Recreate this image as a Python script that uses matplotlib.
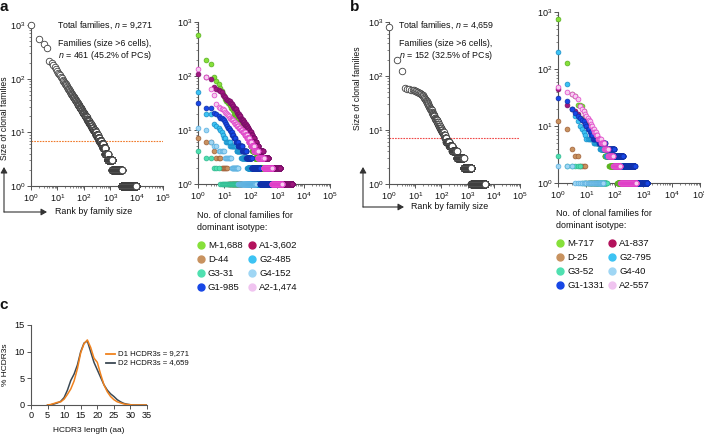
import numpy as np
import matplotlib
matplotlib.use('Agg')
import matplotlib.pyplot as plt
from matplotlib.lines import Line2D
from matplotlib.patches import FancyArrowPatch
from matplotlib.ticker import LogLocator, NullFormatter, FixedLocator

plt.rcParams['font.family'] = ['Liberation Sans', 'DejaVu Sans']
plt.rcParams['mathtext.fontset'] = 'custom'
plt.rcParams['mathtext.rm'] = 'Liberation Sans'
plt.rcParams['mathtext.it'] = 'Liberation Sans:italic'
plt.rcParams['mathtext.bf'] = 'Liberation Sans:bold'

# ---------------- DATA ----------------
# Each series: largest families listed individually (top), then (size, number of families) pairs (tail)
a_all_top = [1000, 550, 450, 380, 210, 195, 180, 165, 150, 140, 130, 122, 115, 108, 102,
             95, 90, 86, 83, 81, 78, 75, 72, 70, 68, 65, 63, 61, 60, 58, 56, 55, 53, 52, 51, 50]
a_all_tail = [(49, 1), (48, 1), (47, 1), (46, 1), (45, 2), (44, 1), (43, 1), (42, 2), (41, 1), (40, 2),
              (39, 1), (38, 2), (37, 2), (36, 2), (35, 2), (34, 2), (33, 2), (32, 3), (31, 3), (30, 3),
              (29, 3), (28, 3), (27, 4), (26, 4), (25, 4), (24, 5), (23, 6), (22, 6), (21, 6), (20, 7),
              (19, 9), (18, 9), (17, 10), (16, 12), (15, 14), (14, 16), (13, 19), (12, 23), (11, 27),
              (10, 33), (9, 43), (8, 55), (7, 72), (6, 80), (5, 100), (4, 160), (3, 400), (2, 1500), (1, 6570)]

b_all_top = [800, 200, 125, 60, 58, 57, 56, 55, 54, 53, 52, 51, 50, 49, 48, 47, 46, 45, 44, 42,
             40, 39, 38, 37, 36, 35, 34, 33, 32, 31]
b_all_tail = [(30, 1), (29, 1), (28, 2), (27, 1), (26, 2), (25, 1), (24, 2), (23, 2), (22, 2), (21, 2),
              (20, 2), (19, 3), (18, 3), (17, 4), (16, 4), (15, 5), (14, 5), (13, 6), (12, 8), (11, 9),
              (10, 12), (9, 14), (8, 14), (7, 17), (6, 48), (5, 60), (4, 120), (3, 320), (2, 700), (1, 3259)]

# Panel a, per dominant isotype
a_M_top = [575, 195, 165, 96, 80, 72, 60, 52, 46, 42, 38]
a_M_tail = [(35, 2), (32, 2), (29, 2), (26, 3), (23, 3), (20, 4), (18, 4), (16, 5), (14, 5), (12, 6),
            (11, 6), (10, 7), (9, 8), (8, 9), (7, 10), (6, 12), (5, 15), (4, 25), (3, 50), (2, 150), (1, 1349)]
a_A1_top = [110, 96, 87, 62, 58, 55, 52, 50, 45, 42, 40, 38]
a_A1_tail = [(36, 2), (34, 2), (32, 2), (30, 2), (28, 2), (26, 3), (24, 3), (22, 3), (20, 4), (18, 5),
             (16, 5), (15, 5), (14, 6), (13, 7), (12, 8), (11, 8), (10, 9), (9, 12), (8, 14), (7, 18),
             (6, 25), (5, 35), (4, 90), (3, 170), (2, 800), (1, 2350)]
a_A2_top = [135, 95, 58, 45, 30, 27, 26, 25, 24, 23, 22, 21, 20, 19, 18]
a_A2_tail = [(17, 2), (16, 2), (15, 3), (14, 3), (13, 4), (12, 5), (11, 6), (10, 8), (9, 10), (8, 12),
             (7, 14), (6, 20), (5, 30), (4, 50), (3, 120), (2, 350), (1, 820)]
a_G1_top = [31, 26, 26, 21, 20, 18, 17, 17, 16, 15, 14, 13, 12, 11, 11, 10, 10, 9, 9, 8, 8, 8, 7, 7, 7, 7]
a_G1_tail = [(6, 6), (5, 15), (4, 20), (3, 40), (2, 120), (1, 758)]
a_G2_top = [50, 20, 20, 13, 12, 11, 10, 9, 8, 7, 7]
a_G2_tail = [(6, 5), (5, 12), (4, 15), (3, 30), (2, 60), (1, 352)]
a_G4_top = [11, 10, 6, 5, 5]
a_G4_tail = [(4, 5), (3, 8), (2, 15), (1, 119)]
a_G3_top = [4, 3, 3]
a_G3_tail = [(2, 3), (1, 25)]
a_D_top = [7, 6, 6, 4, 3, 3, 3]
a_D_tail = [(2, 6), (1, 31)]

# Panel b, per dominant isotype
b_M_top = [755, 126, 36, 34, 23, 23, 22, 18, 15, 13, 12, 11, 10, 9, 8, 8, 7, 7]
b_M_tail = [(6, 5), (5, 8), (4, 12), (3, 20), (2, 60), (1, 594)]
b_A1_top = [44, 23, 20, 18, 16, 14, 13, 12, 11, 10, 10, 9, 9, 8, 8, 7, 7, 7]
b_A1_tail = [(6, 6), (5, 10), (4, 20), (3, 40), (2, 120), (1, 623)]
b_G1_top = [31, 27, 20, 17, 15, 14, 13, 12, 11, 10, 9, 9, 8, 8, 7, 7]
b_G1_tail = [(6, 10), (5, 20), (4, 50), (3, 100), (2, 300), (1, 835)]
b_G2_top = [200, 54, 20, 15, 12, 10, 9, 8, 7]
b_G2_tail = [(6, 8), (5, 12), (4, 20), (3, 40), (2, 100), (1, 606)]
b_A2_top = [48, 40, 37, 33, 30, 22, 20, 18, 16, 15, 14, 13, 12, 11, 10, 10, 9, 9, 8, 8, 8, 7, 7, 7]
b_A2_tail = [(6, 8), (5, 10), (4, 15), (3, 30), (2, 70), (1, 400)]
b_D_top = [12, 9, 4, 3, 3]
b_D_tail = [(2, 4), (1, 16)]
b_G3_top = [3]
b_G3_tail = [(2, 5), (1, 46)]
b_G4_top = [2, 2, 2]
b_G4_tail = [(1, 37)]

isotypes_legend = ['M', 'D', 'G3', 'G1', 'A1', 'G2', 'G4', 'A2']
isotypes_draw = ['M', 'A1', 'D', 'G2', 'G3', 'G4', 'G1', 'A2']
a_legend_labels = ['M-1,688', 'D-44', 'G3-31', 'G1-985', 'A1-3,602', 'G2-485', 'G4-152', 'A2-1,474']
b_legend_labels = ['M-717', 'D-25', 'G3-52', 'G1-1331', 'A1-837', 'G2-795', 'G4-40', 'A2-557']

# Panel c: HCDR3 length distribution (% of HCDR3s)
cdr3_len = [5, 6, 7, 8, 9, 10, 11, 12, 13, 14, 15, 16, 17, 18, 19, 20, 21, 22, 23, 24, 25, 26, 27, 28, 29, 30, 31, 32, 33, 34, 35]
d1_pct = [0, 0.1, 0.3, 0.5, 0.6, 1.1, 2.0, 3.0, 4.5, 6.8, 9.8, 11.5, 12.2, 10.8, 8.8, 8.0, 5.8, 3.8, 2.5,
          1.6, 1.0, 0.6, 0.4, 0.2, 0.1, 0.05, 0, 0, 0, 0, 0]
d2_pct = [0, 0.05, 0.2, 0.4, 0.7, 1.4, 2.8, 4.6, 5.8, 7.5, 10.0, 11.6, 12.0, 10.0, 8.0, 6.6, 5.2, 3.8, 2.8,
          2.1, 1.6, 1.0, 0.6, 0.3, 0.15, 0.05, 0, 0, 0, 0, 0]

# ---------------- STYLE ----------------
legend_colors = {'M': '#86e03a', 'D': '#c8925f', 'G3': '#4fe0b0', 'G1': '#1747e6',
                 'A1': '#b3125c', 'G2': '#3cc3f3', 'G4': '#9fd6f4', 'A2': '#f0c4f0'}
face_colors = {'M': '#86e03a', 'D': '#c8925f', 'G3': '#4fe0b0', 'G1': '#1747e6',
               'A1': '#a0187e', 'G2': '#3cc3f3', 'G4': '#9fd6f4', 'A2': '#f6cdf0'}
edge_colors = {'M': '#58b020', 'D': '#a0603a', 'G3': '#30b890', 'G1': '#1030a8',
               'A1': '#7c0f6a', 'G2': '#1a8ec8', 'G4': '#5ab0e0', 'A2': '#e040c8'}

W, H = 704, 437
fig = plt.figure(figsize=(W / 100, H / 100), dpi=100)


def rect(x0, y0, x1, y1):
    return [x0 / W, 1 - y1 / H, (x1 - x0) / W, (y1 - y0) / H]


def fx(x):
    return x / W


def fy(y):
    return 1 - y / H


def expand(top, tail):
    sizes = np.concatenate([np.asarray(top, float),
                            np.repeat([s for s, c in tail], [c for s, c in tail]).astype(float)])
    sizes = np.sort(sizes)[::-1]
    ranks = np.arange(1, len(sizes) + 1)
    return ranks, sizes


AXC = '#555555'


def style_log(ax):
    ax.set_xscale('log')
    ax.set_yscale('log')
    ax.set_xlim(1, 1e5)
    ax.set_ylim(1, 1e3)
    for sp in ['top', 'right']:
        ax.spines[sp].set_visible(False)
    for sp in ['left', 'bottom']:
        ax.spines[sp].set_color(AXC)
        ax.spines[sp].set_linewidth(0.8)
    ax.xaxis.set_major_locator(LogLocator(base=10, numticks=10))
    ax.xaxis.set_minor_locator(LogLocator(base=10, subs=np.arange(2, 10), numticks=10))
    ax.yaxis.set_major_locator(LogLocator(base=10, numticks=10))
    ax.yaxis.set_minor_locator(LogLocator(base=10, subs=np.arange(2, 10), numticks=10))
    ax.xaxis.set_minor_formatter(NullFormatter())
    ax.yaxis.set_minor_formatter(NullFormatter())
    ax.tick_params(which='major', length=3, width=0.7, color=AXC, labelsize=6.5, pad=1.3, labelcolor='#111')
    ax.tick_params(which='minor', length=1.6, width=0.5, color=AXC)


def left_panel(rectpx, top, tail, linecolor):
    ax = fig.add_axes(rect(*rectpx))
    style_log(ax)
    r, s = expand(top, tail)
    ax.scatter(r, s, s=22, facecolors='white', edgecolors='#3f3f3f', linewidths=0.6,
               clip_on=False, zorder=3)
    ax.axhline(7, color=linecolor, lw=0.8, ls=(0, (1.5, 1.0)), zorder=2)
    return ax


def right_panel(rectpx, series):
    ax = fig.add_axes(rect(*rectpx))
    style_log(ax)
    for iso in isotypes_draw:
        top, tail = series[iso]
        r, s = expand(top, tail)
        ax.scatter(r, s, s=12, facecolors=face_colors[iso], edgecolors=edge_colors[iso],
                   linewidths=0.5, clip_on=False, zorder=3)
    return ax


a_series = {'M': (a_M_top, a_M_tail), 'A1': (a_A1_top, a_A1_tail), 'A2': (a_A2_top, a_A2_tail),
            'G1': (a_G1_top, a_G1_tail), 'G2': (a_G2_top, a_G2_tail), 'G4': (a_G4_top, a_G4_tail),
            'G3': (a_G3_top, a_G3_tail), 'D': (a_D_top, a_D_tail)}
b_series = {'M': (b_M_top, b_M_tail), 'A1': (b_A1_top, b_A1_tail), 'A2': (b_A2_top, b_A2_tail),
            'G1': (b_G1_top, b_G1_tail), 'G2': (b_G2_top, b_G2_tail), 'G4': (b_G4_top, b_G4_tail),
            'G3': (b_G3_top, b_G3_tail), 'D': (b_D_top, b_D_tail)}

# ---------------- PANELS a, b ----------------
left_panel((31, 25, 163, 186), a_all_top, a_all_tail, '#f07a2a')
right_panel((198, 22, 330, 184), a_series)
left_panel((389, 22, 520, 184), b_all_top, b_all_tail, '#f04848')
right_panel((558, 12, 700, 183), b_series)

FS = 6.4
# annotations
for cx, lines in [(105, ['Total families, $n$ = 9,271', 'Families (size >6 cells),', '$n$ = 461 (45.2% of PCs)']),
                  (446, ['Total families, $n$ = 4,659', 'Families (size >6 cells),', '$n$ = 152 (32.5% of PCs)'])]:
    for yy, t in zip([25, 43, 55], lines):
        fig.text(fx(cx), fy(yy), t, ha='center', va='center', fontsize=FS, color='#111')

# y labels and arrows
fig.text(fx(5), fy(118), 'Size of clonal families', rotation=90, ha='center', va='center', fontsize=6.2, color='#111')
fig.text(fx(357), fy(88), 'Size of clonal families', rotation=90, ha='center', va='center', fontsize=6.2, color='#111')
for (ax0, ay0, hx, vy, tx) in [(4, 212, 47, 167, 55), (363, 207, 404, 167, 411)]:
    for end in [(hx, ay0), (ax0, vy)]:
        fig.add_artist(FancyArrowPatch((fx(ax0), fy(ay0)), (fx(end[0]), fy(end[1])),
                                       transform=fig.transFigure, arrowstyle='-|>,head_length=3.5,head_width=2',
                                       color='#333333', lw=0.8, shrinkA=0, shrinkB=0))
    fig.text(fx(tx), fy(ay0), 'Rank by family size', ha='left', va='center', fontsize=FS, color='#111')

# isotype legends
for (tx, ty, c1x, c2x, rows_y, labels) in [(197, 215, 201, 252, [245, 259, 273, 287], a_legend_labels),
                                            (556, 213, 560, 612, [243, 257, 271, 285], b_legend_labels)]:
    fig.text(fx(tx), fy(ty), 'No. of clonal families for', ha='left', va='center', fontsize=FS, color='#111')
    fig.text(fx(tx), fy(ty + 12), 'dominant isotype:', ha='left', va='center', fontsize=FS, color='#111')
    for i, (iso, lab) in enumerate(zip(isotypes_legend, labels)):
        col, row = divmod(i, 4)
        mx = c1x if col == 0 else c2x
        my = rows_y[row]
        fig.add_artist(Line2D([fx(mx)], [fy(my)], marker='o', markersize=5, linestyle='none',
                              markerfacecolor=legend_colors[iso], markeredgecolor=legend_colors[iso],
                              transform=fig.transFigure))
        fig.text(fx(mx + 7), fy(my), lab, ha='left', va='center', fontsize=6.8, color='#111')

# ---------------- PANEL c ----------------
axc = fig.add_axes(rect(31, 325, 147, 405))
axc.plot(cdr3_len, d2_pct, color='#3b4954', lw=1.1, zorder=3)
axc.plot(cdr3_len, d1_pct, color='#f0821e', lw=1.1, zorder=4)
axc.set_xlim(0, 35)
axc.set_ylim(0, 15)
axc.xaxis.set_major_locator(FixedLocator([0, 5, 10, 15, 20, 25, 30, 35]))
axc.yaxis.set_major_locator(FixedLocator([0, 5, 10, 15]))
for sp in ['top', 'right']:
    axc.spines[sp].set_visible(False)
for sp in ['left', 'bottom']:
    axc.spines[sp].set_color(AXC)
    axc.spines[sp].set_linewidth(0.8)
axc.tick_params(length=3, width=0.7, color=AXC, labelsize=6.6, pad=1.5, labelcolor='#111')
fig.text(fx(6), fy(365), '% HCDR3s', rotation=90, ha='center', va='center', fontsize=6.0, color='#111')
fig.text(fx(89), fy(430), 'HCDR3 length (aa)', ha='center', va='center', fontsize=6.0, color='#111')
for yy, col, lab in [(354, '#f0821e', 'D1 HCDR3s = 9,271'), (363, '#3b4954', 'D2 HCDR3s = 4,659')]:
    fig.add_artist(Line2D([fx(106), fx(115)], [fy(yy), fy(yy)], color=col, lw=1.3, transform=fig.transFigure))
    fig.text(fx(118), fy(yy), lab, ha='left', va='center', fontsize=5.6, color='#111')

# panel letters
for x, y, t in [(4, 7, 'a'), (355, 7, 'b'), (4, 305, 'c')]:
    fig.text(fx(x), fy(y), t, ha='center', va='center', fontsize=11, fontweight='bold', color='#111')

fig.savefig('out.png', dpi=100)
